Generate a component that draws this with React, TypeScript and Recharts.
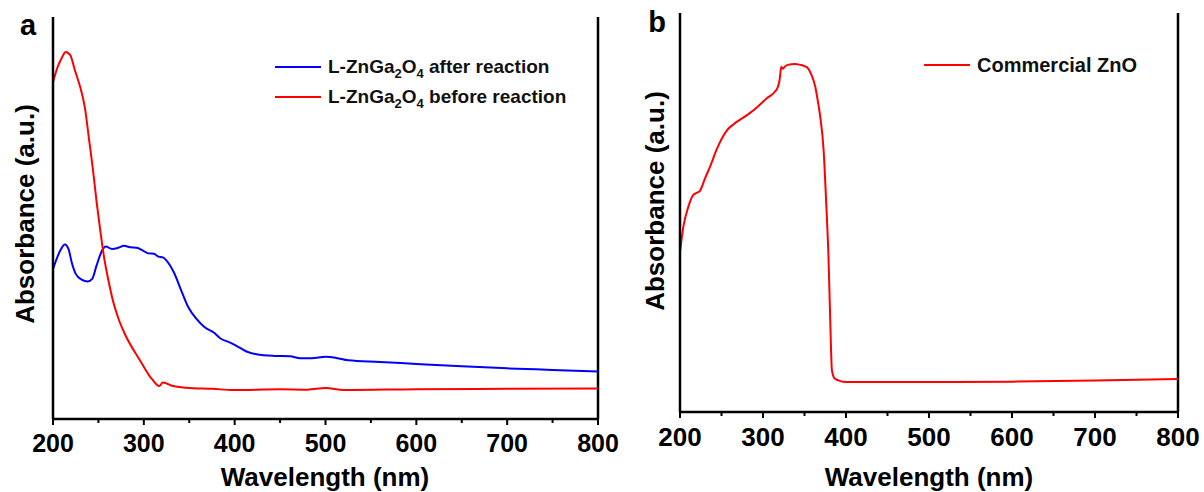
import React from 'react';
import { LineChart, Line, XAxis, YAxis, Legend, CartesianGrid } from 'recharts';

// panel a: L-ZnGa2O4
const afterWl = [200, 208, 213, 217, 221, 225, 232, 238, 243, 248, 254, 258, 265, 272, 278, 285, 292, 299, 305, 311, 316, 321, 325, 333, 342, 349, 358, 367, 377, 384, 395, 402, 413, 424, 443, 461, 472, 485, 500, 512, 525, 560, 600, 650, 700, 750, 800];
const afterAbs = [0.373, 0.419, 0.434, 0.423, 0.386, 0.361, 0.346, 0.342, 0.348, 0.382, 0.419, 0.429, 0.423, 0.426, 0.431, 0.427, 0.426, 0.419, 0.412, 0.411, 0.404, 0.402, 0.394, 0.365, 0.315, 0.278, 0.249, 0.228, 0.215, 0.201, 0.19, 0.182, 0.168, 0.161, 0.157, 0.156, 0.151, 0.151, 0.155, 0.152, 0.146, 0.142, 0.137, 0.131, 0.126, 0.122, 0.118];

const beforeWl = [200, 205, 210, 214, 219, 224, 230, 235, 240, 244, 248, 252, 256, 261, 266, 272, 279, 296, 309, 317, 321, 332, 347, 376, 398, 450, 480, 500, 520, 600, 700, 800];
const beforeAbs = [0.838, 0.875, 0.9, 0.913, 0.905, 0.868, 0.825, 0.776, 0.69, 0.62, 0.54, 0.47, 0.405, 0.345, 0.294, 0.25, 0.212, 0.145, 0.099, 0.082, 0.091, 0.082, 0.078, 0.075, 0.072, 0.074, 0.073, 0.077, 0.072, 0.074, 0.075, 0.076];

// panel b: commercial ZnO
const znoWl = [200, 204, 210, 216, 220, 224, 230, 236, 245, 257, 265, 272, 284, 293, 305, 314, 318, 320, 322, 324, 326, 330, 338, 345, 350, 354, 358, 363, 366, 369, 373, 376, 379, 381, 383, 386, 390, 400, 500, 600, 700, 800];
const znoAbs = [0.401, 0.464, 0.514, 0.544, 0.549, 0.554, 0.585, 0.614, 0.662, 0.707, 0.722, 0.732, 0.749, 0.764, 0.787, 0.802, 0.815, 0.832, 0.865, 0.86, 0.865, 0.87, 0.872, 0.87, 0.867, 0.862, 0.847, 0.815, 0.78, 0.739, 0.657, 0.531, 0.381, 0.231, 0.105, 0.085, 0.08, 0.075, 0.075, 0.076, 0.079, 0.083];

const xTicks = [200, 250, 300, 350, 400, 450, 500, 550, 600, 650, 700, 750, 800];

const FONT = '"Liberation Sans", Arial, sans-serif';

const toRows = (wl: number[], abs: number[]) => wl.map((w, i) => ({ wl: w, abs: abs[i] }));
const afterData = toRows(afterWl, afterAbs);
const beforeData = toRows(beforeWl, beforeAbs);
const znoData = toRows(znoWl, znoAbs);

const makeTick = (fs: number, dy: number) => (props: any) => {
  const { x, y, payload } = props;
  const major = payload.value % 100 === 0;
  return (
    <g>
      <line x1={x} x2={x} y1={y} y2={y + (major ? 6 : 4)} stroke="#000" strokeWidth={2} />
      {major && (
        <text x={x} y={y + dy} textAnchor="middle" fontSize={fs} fontWeight="bold" fontFamily={FONT} fill="#000">
          {payload.value}
        </text>
      )}
    </g>
  );
};

const yTitle = (cx: number, cy: number, letter: string, lx: number, ly: number) => () => (
  <g fontFamily={FONT} fontWeight="bold" fill="#000">
    <text transform={`translate(${cx},${cy}) rotate(-90)`} textAnchor="middle" dominantBaseline="central" fontSize={26}>
      Absorbance (a.u.)
    </text>
    <text x={lx} y={ly} textAnchor="middle" dominantBaseline="central" fontSize={29}>
      {letter}
    </text>
  </g>
);

const xTitle = (cx: number, cy: number) => () => (
  <text x={cx} y={cy} textAnchor="middle" dominantBaseline="central" fontSize={26} fontWeight="bold" fontFamily={FONT} fill="#000">
    Wavelength (nm)
  </text>
);

const Swatch = ({ color }: { color: string }) => (
  <svg width={46} height={4} style={{ marginRight: 7, flex: 'none' }}>
    <line x1={0} x2={46} y1={2} y2={2} stroke={color} strokeWidth={2} />
  </svg>
);

const sub = { fontSize: 13, lineHeight: 0 };
const row = { display: 'flex', alignItems: 'center', height: 30, whiteSpace: 'nowrap' as const };

const legendA = () => (
  <div style={{ fontFamily: FONT, fontWeight: 'bold', fontSize: 19, color: '#111' }}>
    <div style={row}>
      <Swatch color="#0000ff" />
      <span>L-ZnGa<sub style={sub}>2</sub>O<sub style={sub}>4</sub> after reaction</span>
    </div>
    <div style={row}>
      <Swatch color="#ff0000" />
      <span>L-ZnGa<sub style={sub}>2</sub>O<sub style={sub}>4</sub> before reaction</span>
    </div>
  </div>
);

const legendB = () => (
  <div style={{ fontFamily: FONT, fontWeight: 'bold', fontSize: 20, color: '#111' }}>
    <div style={row}>
      <Swatch color="#ff0000" />
      <span>Commercial ZnO</span>
    </div>
  </div>
);

const frame = { stroke: '#000', strokeWidth: 2.5 };

// top and right sides of the box
const boxGrid = (
  <CartesianGrid horizontalValues={[1]} verticalValues={[800]} stroke="#000" strokeWidth={2.5} strokeDasharray="" />
);

export default function App() {
  return (
    <div style={{ position: 'absolute', left: 0, top: 0, width: 1204, height: 492, background: '#fff' }}>
      <div style={{ position: 'absolute', left: 0, top: 0 }}>
        <LineChart width={630} height={492} margin={{ top: 17, right: 32, left: 0, bottom: 0 }}>
          {boxGrid}
          <XAxis
            dataKey="wl"
            type="number"
            domain={[200, 800]}
            ticks={xTicks}
            interval={0}
            height={73}
            tickSize={0}
            tickMargin={0}
            tickLine={false}
            axisLine={frame}
            tick={makeTick(25, 33)}
            label={{ content: xTitle(325, 477) }}
            allowDataOverflow
          />
          <YAxis type="number" domain={[0, 1]} ticks={[0, 1]} width={53} tick={false} tickLine={false} axisLine={frame} label={{ content: yTitle(25, 214, 'a', 28, 25) }} />
          <Legend layout="vertical" align="center" verticalAlign="middle" content={legendA} wrapperStyle={{ left: 275, top: 52, width: 320, height: 'auto' }} />
          <Line data={afterData} dataKey="abs" type="monotone" stroke="#0000ff" strokeWidth={2} dot={false} isAnimationActive={false} />
          <Line data={beforeData} dataKey="abs" type="monotone" stroke="#ff0000" strokeWidth={2} dot={false} isAnimationActive={false} />
        </LineChart>
      </div>
      <div style={{ position: 'absolute', left: 610, top: 0 }}>
        <LineChart width={594} height={492} margin={{ top: 13, right: 26, left: 0, bottom: 0 }}>
          {boxGrid}
          <XAxis
            dataKey="wl"
            type="number"
            domain={[200, 800]}
            ticks={xTicks}
            interval={0}
            height={80}
            tickSize={0}
            tickMargin={0}
            tickLine={false}
            axisLine={frame}
            tick={makeTick(26, 34)}
            label={{ content: xTitle(319, 477) }}
            allowDataOverflow
          />
          <YAxis type="number" domain={[0, 1]} ticks={[0, 1]} width={70} tick={false} tickLine={false} axisLine={frame} label={{ content: yTitle(45, 201, 'b', 47, 22) }} />
          <Legend layout="vertical" align="center" verticalAlign="middle" content={legendB} wrapperStyle={{ left: 314, top: 50, width: 260, height: 'auto' }} />
          <Line data={znoData} dataKey="abs" type="monotone" stroke="#ff0000" strokeWidth={2} dot={false} isAnimationActive={false} />
        </LineChart>
      </div>
    </div>
  );
}
